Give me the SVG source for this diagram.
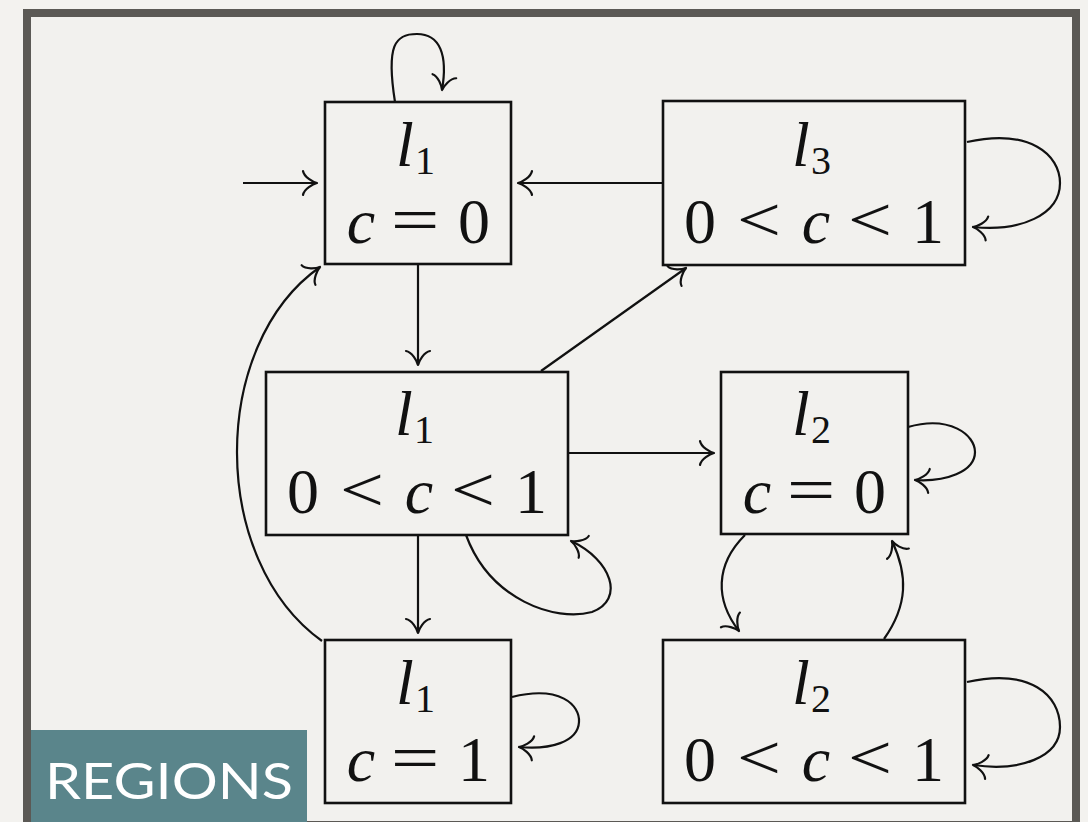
<svg xmlns="http://www.w3.org/2000/svg" width="1088" height="822" viewBox="0 0 1088 822">
<defs>
<style>
.box{fill:none;stroke:#111;stroke-width:2.6}
.e{fill:none;stroke:#111;stroke-width:2.2;marker-end:url(#to)}
.m{font-family:"Liberation Serif","Times New Roman",serif;font-size:64px;fill:#111;text-anchor:middle}
.i{font-style:italic}
.s{font-size:40px}
.lbl{font-family:"Lato","Liberation Sans",sans-serif;font-size:51px;fill:#fff}
</style>
<marker id="to" markerUnits="userSpaceOnUse" viewBox="-17 -14 20 28" refX="0" refY="0" markerWidth="20" markerHeight="28" orient="auto" overflow="visible">
<path d="M-14,-12 C-13,-6 -4,-1 0,0 M-14,12 C-13,6 -4,1 0,0" fill="none" stroke="#111" stroke-width="2.2" stroke-linecap="round"/>
</marker>
</defs>
<rect x="0" y="0" width="1088" height="822" fill="#f3f2ef"/>
<rect id="frame" x="27" y="13" width="1049" height="812" fill="#f2f1ee" stroke="#5b5955" stroke-width="8"/>

<g id="connectors">
<path class="e" d="M243,183 L317,183"/>
<path class="e" d="M395,102 C386,45 395,34 417,34 C440,34 448,55 442,90"/>
<path class="e" d="M418,265 L418,365"/>
<path class="e" d="M663,183 L518,183"/>
<path class="e" d="M541,371 L686,268"/>
<path class="e" d="M569,453 L714,453"/>
<path class="e" d="M418,535 L418,633"/>
<path class="e" d="M466,535 C490,600 555,622 592,612 C625,600 612,560 571,541"/>
<path class="e" d="M322,641 C209,560 209,345 320,267"/>
<path class="e" d="M512,697 C560,685 580,705 579,722 C578,742 550,750 519,747"/>
<path class="e" d="M908,427 C950,415 975,435 975,452 C975,472 945,482 915,480"/>
<path class="e" d="M745,535 C715,565 715,600 739,631"/>
<path class="e" d="M884,639 C908,605 908,575 892,541"/>
<path class="e" d="M967,142 C1030,128 1060,155 1060,183 C1060,215 1020,232 973,227"/>
<path class="e" d="M967,682 C1030,668 1060,695 1060,727 C1060,757 1020,772 973,765"/>
</g>

<g id="n1">
<rect class="box" x="325" y="102" width="186" height="162"/>
<text class="m"><tspan class="i" x="405" y="166">l</tspan><tspan class="s" x="425" y="174">1</tspan></text>
<text class="m" y="243"><tspan class="i" x="361">c</tspan><tspan x="474">0</tspan></text>
<text class="m" transform="translate(415,241) scale(1.35,1)">=</text>
</g>
<g id="n2">
<rect class="box" x="663" y="101" width="302" height="164"/>
<text class="m"><tspan class="i" x="801" y="166">l</tspan><tspan class="s" x="821" y="174">3</tspan></text>
<text class="m" y="243"><tspan x="700">0</tspan><tspan class="i" x="816">c</tspan><tspan x="928">1</tspan></text>
<text class="m" transform="translate(759,241) scale(1.22,1)">&lt;</text>
<text class="m" transform="translate(870,241) scale(1.22,1)">&lt;</text>
</g>
<g id="n3">
<rect class="box" x="266" y="372" width="302" height="163"/>
<text class="m"><tspan class="i" x="404" y="435">l</tspan><tspan class="s" x="424" y="443">1</tspan></text>
<text class="m" y="513"><tspan x="303">0</tspan><tspan class="i" x="419">c</tspan><tspan x="531">1</tspan></text>
<text class="m" transform="translate(362,511) scale(1.22,1)">&lt;</text>
<text class="m" transform="translate(473,511) scale(1.22,1)">&lt;</text>
</g>
<g id="n4">
<rect class="box" x="721" y="372" width="187" height="162"/>
<text class="m"><tspan class="i" x="801" y="435">l</tspan><tspan class="s" x="821" y="443">2</tspan></text>
<text class="m" y="513"><tspan class="i" x="757">c</tspan><tspan x="870">0</tspan></text>
<text class="m" transform="translate(811,511) scale(1.35,1)">=</text>
</g>
<g id="n5">
<rect class="box" x="325" y="640" width="186" height="163"/>
<text class="m"><tspan class="i" x="405" y="704">l</tspan><tspan class="s" x="425" y="712">1</tspan></text>
<text class="m" y="781"><tspan class="i" x="361">c</tspan><tspan x="474">1</tspan></text>
<text class="m" transform="translate(415,779) scale(1.35,1)">=</text>
</g>
<g id="n6">
<rect class="box" x="663" y="640" width="302" height="163"/>
<text class="m"><tspan class="i" x="801" y="704">l</tspan><tspan class="s" x="821" y="712">2</tspan></text>
<text class="m" y="781"><tspan x="700">0</tspan><tspan class="i" x="816">c</tspan><tspan x="928">1</tspan></text>
<text class="m" transform="translate(759,779) scale(1.22,1)">&lt;</text>
<text class="m" transform="translate(870,779) scale(1.22,1)">&lt;</text>
</g>

<g id="label">
<rect x="31" y="730" width="276" height="92" fill="#5a858b"/>
<text class="lbl" x="45" y="799" textLength="248" lengthAdjust="spacingAndGlyphs">REGIONS</text>
</g>
</svg>
